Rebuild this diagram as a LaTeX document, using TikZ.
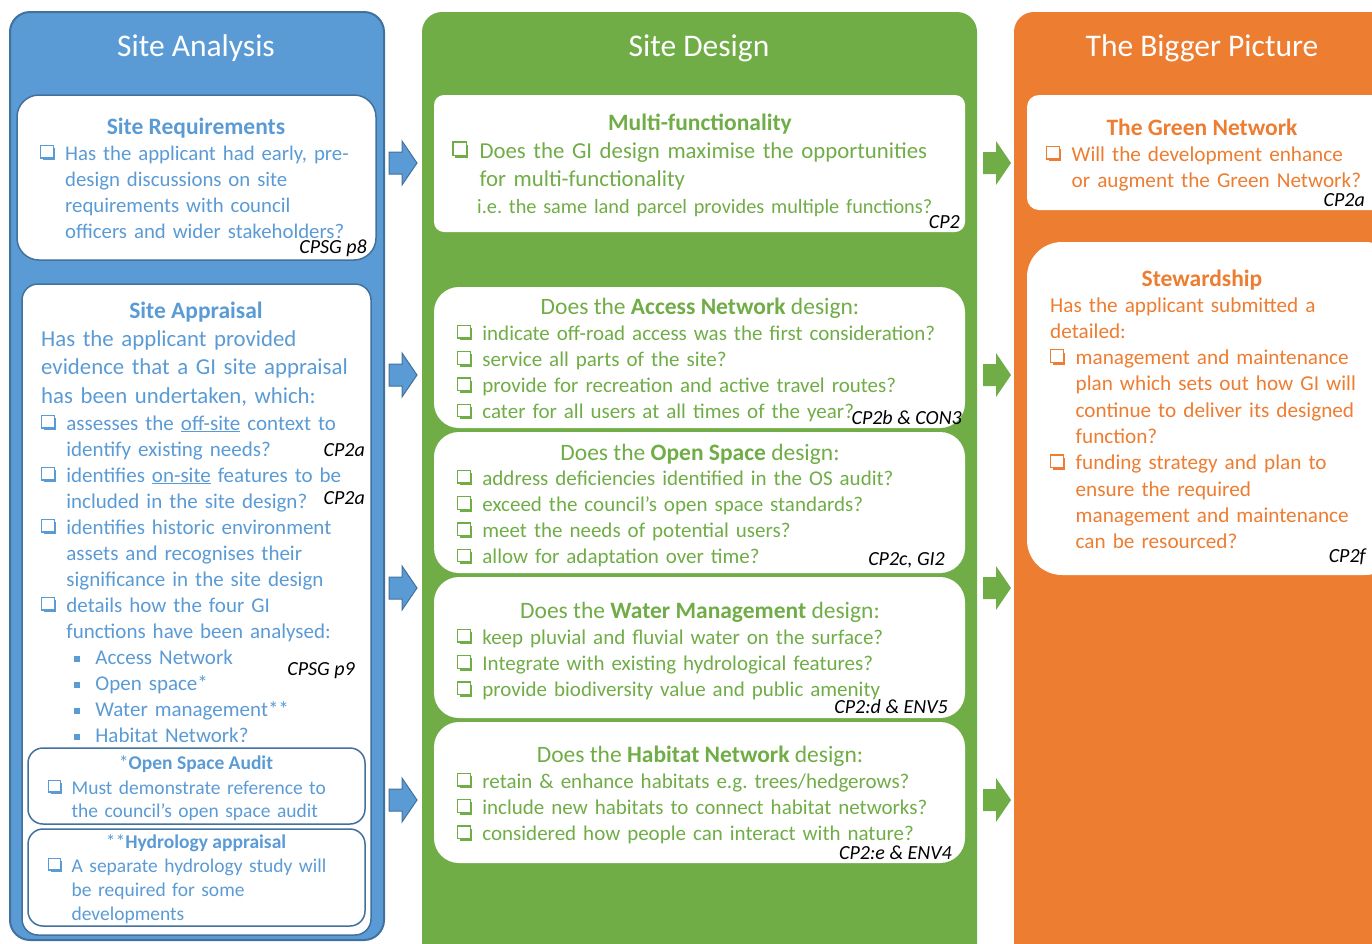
\documentclass[tikz,border=0pt]{standalone}
\usepackage{fontspec}
\setmainfont{Carlito}
\frenchspacing

\definecolor{saBlue}{HTML}{5B9BD5}
\definecolor{saEdge}{HTML}{41719C}
\definecolor{sdGreen}{HTML}{70AD47}
\definecolor{bpOrange}{HTML}{ED7D31}

% shadowed check box, as in the printed lists
\newcommand\chkbox{\tikz[baseline=0pt, x=1em, y=1em]{%
  \fill (0.1,-0.01) rectangle (0.68,0.57);
  \filldraw[fill=white, line width=0.06em] (0,0.1) rectangle (0.6,0.7);}}
\newcommand\chk{\makebox[1.2em][l]{\chkbox}}
\newcommand\ind{\hspace*{1.2em}}
\newcommand\bul{\hspace*{8pt}\rule[2pt]{6pt}{6pt}\hspace*{15pt}}

\begin{document}
\begin{tikzpicture}[x=1pt, y=-1pt,
  column/.style={fill=#1, rounded corners=20pt},
  card/.style={fill=white, rounded corners=#1},
  edge/.style={draw=saEdge, line width=1.5pt},
  coltitle/.style={anchor=base, inner sep=0pt, text=white, font=\fontsize{31.5}{38}\selectfont},
  cardtitle/.style={anchor=base, inner sep=0pt, font=\fontsize{23.5}{28}\selectfont},
  body/.style 2 args={anchor=base west, inner sep=0pt, text width=620pt, align=left,
    font=\fontsize{#1}{#2}\selectfont},
  ref/.style={anchor=base east, inner sep=0pt, text=black, font=\fontsize{20}{24}\selectfont\itshape}]
\useasboundingbox (0,0) rectangle (1372,943);
\clip (0,0) rectangle (1372,943);

% columns
\draw[column=saBlue, draw=saEdge, line width=2pt] (10,12) rectangle (384,940);
\fill[column=sdGreen] (422,12) rectangle (977,970);
\fill[column=bpOrange] (1014,12) rectangle (1400,970);
\node[coltitle] (satitle) at (196,56) {Site Analysis};
\node[coltitle] (sdtitle) at (699,56) {Site Design};
\node[coltitle] (bptitle) at (1202,56) {The Bigger Picture};

% block arrows
\foreach \y in {163,375,588,800} {
  \filldraw[fill=saBlue, draw=saEdge, line width=1pt] (389,\y-11) -- (402,\y-11) -- (402,\y-22)
    -- (417,\y) -- (402,\y+22) -- (402,\y+11) -- (389,\y+11) -- cycle;
  \fill[sdGreen] (983,\y-11) -- (996,\y-11) -- (996,\y-22)
    -- (1011,\y) -- (996,\y+22) -- (996,\y+11) -- (983,\y+11) -- cycle;
}

% ---- Site Analysis ----
\draw[card=22pt, edge] (17,95) rectangle (376,260);
\node[cardtitle, text=saBlue] (reqtitle) at (196,134) {\textbf{Site Requirements}};
\node[body={20.8}{26}, text=saBlue] (reqtext) at (40,160) {\chk Has the applicant had early, pre-\\
  \ind design discussions on site\\
  \ind requirements with council\\
  \ind officers and wider stakeholders?};
\node[ref] (reqref) at (367,253) {CPSG p8};

\draw[card=16pt, edge] (22,284) rectangle (371,935);
\node[cardtitle, text=saBlue] (apptitle) at (196,318) {\textbf{Site Appraisal}};
\node[body={22.8}{28.5}, text=saBlue] (appintro) at (41,346) {Has the applicant provided\\
  evidence that a GI site appraisal\\
  has been undertaken, which:};
\node[body={21}{26}, text=saBlue] (appitems) at (41,430) {\chk assesses the \underline{off-site} context to\\
  \ind identify existing needs?\\
  \chk identifies \underline{on-site} features to be\\
  \ind included in the site design?\\
  \chk identifies historic environment\\
  \ind assets and recognises their\\
  \ind significance in the site design\\
  \chk details how the four GI\\
  \ind functions have been analysed:\\
  \ind\bul Access Network\\
  \ind\bul Open space*\\
  \ind\bul Water management**\\
  \ind\bul Habitat Network?};
\node[ref] (appref1) at (365,456) {CP2a};
\node[ref] (appref2) at (365,504) {CP2a};
\node[ref] (appref3) at (355,675) {CPSG p9};

\draw[card=15pt, edge] (28,748) rectangle (365,824);
\node[cardtitle, text=saBlue, font=\fontsize{19.5}{24}\selectfont] (audittitle) at (196,769) {*\textbf{Open Space Audit}};
\node[body={19.5}{23.5}, text=saBlue] (audittext) at (48,794) {\chk Must demonstrate reference to\\
  \ind the council’s open space audit};

\draw[card=15pt, edge] (28,829) rectangle (365,926);
\node[cardtitle, text=saBlue, font=\fontsize{19.5}{24}\selectfont] (hydrotitle) at (196,848) {**\textbf{Hydrology appraisal}};
\node[body={19.5}{24}, text=saBlue] (hydrotext) at (48,872) {\chk A separate hydrology study will\\
  \ind be required for some\\
  \ind developments};

% ---- Site Design ----
\fill[card=10pt] (434,95) rectangle (965,232);
\node[cardtitle, text=sdGreen] (multititle) at (700,130) {\textbf{Multi-functionality}};
\node[body={22.8}{28}, text=sdGreen] (multitext) at (452,158) {\chk Does the GI design maximise the opportunities\\
  \ind for multi-functionality};
\node[body={20.3}{24}, text=sdGreen] (multinote) at (477,213) {i.e. the same land parcel provides multiple functions?};
\node[ref] (multiref) at (960,228) {CP2};

\fill[card=25pt] (434,287) rectangle (965,428);
\node[cardtitle, text=sdGreen] (accesstitle) at (700,314) {Does the \textbf{Access Network} design:};
\node[body={21}{26.3}, text=sdGreen] (accesstext) at (457,340) {\chk indicate off-road access was the first consideration?\\
  \chk service all parts of the site?\\
  \chk provide for recreation and active travel routes?\\
  \chk cater for all users at all times of the year?};
\node[ref] (accessref) at (962,424) {CP2b \& CON3};

\fill[card=25pt] (434,432) rectangle (965,573);
\node[cardtitle, text=sdGreen] (opentitle) at (700,460) {Does the \textbf{Open Space} design:};
\node[body={21}{26.3}, text=sdGreen] (opentext) at (457,485) {\chk address deficiencies identified in the OS audit?\\
  \chk exceed the council’s open space standards?\\
  \chk meet the needs of potential users?\\
  \chk allow for adaptation over time?};
\node[ref] (openref) at (945,565) {CP2c, GI2};

\fill[card=25pt] (434,577) rectangle (965,718);
\node[cardtitle, text=sdGreen] (watertitle) at (700,618) {Does the \textbf{Water Management} design:};
\node[body={21}{26.3}, text=sdGreen] (watertext) at (457,644) {\chk keep pluvial and fluvial water on the surface?\\
  \chk Integrate with existing hydrological features?\\
  \chk provide biodiversity value and public amenity};
\node[ref] (waterref) at (948,713) {CP2:d \& ENV5};

\fill[card=25pt] (434,722) rectangle (965,863);
\node[cardtitle, text=sdGreen] (habitattitle) at (700,762) {Does the \textbf{Habitat Network} design:};
\node[body={21}{26.3}, text=sdGreen] (habitattext) at (457,788) {\chk retain \& enhance habitats e.g. trees/hedgerows?\\
  \chk include new habitats to connect habitat networks?\\
  \chk considered how people can interact with nature?};
\node[ref] (habitatref) at (952,859) {CP2:e \& ENV4};

% ---- The Bigger Picture ----
\fill[card=12pt] (1027,95) rectangle (1400,210);
\node[cardtitle, text=bpOrange] (networktitle) at (1202,135) {\textbf{The Green Network}};
\node[body={21.2}{26.3}, text=bpOrange] (networktext) at (1046,161) {\chk Will the development enhance\\
  \ind or augment the Green Network?};
\node[ref] (networkref) at (1365,206) {CP2a};

\fill[card=35pt] (1027,242) rectangle (1400,575);
\node[cardtitle, text=bpOrange] (stewardtitle) at (1202,286) {\textbf{Stewardship}};
\node[body={21.2}{26.3}, text=bpOrange] (stewardtext) at (1050,312) {Has the applicant submitted a\\
  detailed:\\
  \chk management and maintenance\\
  \ind plan which sets out how GI will\\
  \ind continue to deliver its designed\\
  \ind function?\\
  \chk funding strategy and plan to\\
  \ind ensure the required\\
  \ind management and maintenance\\
  \ind can be resourced?};
\node[ref] (stewardref) at (1366,562) {CP2f};
\end{tikzpicture}
\end{document}
